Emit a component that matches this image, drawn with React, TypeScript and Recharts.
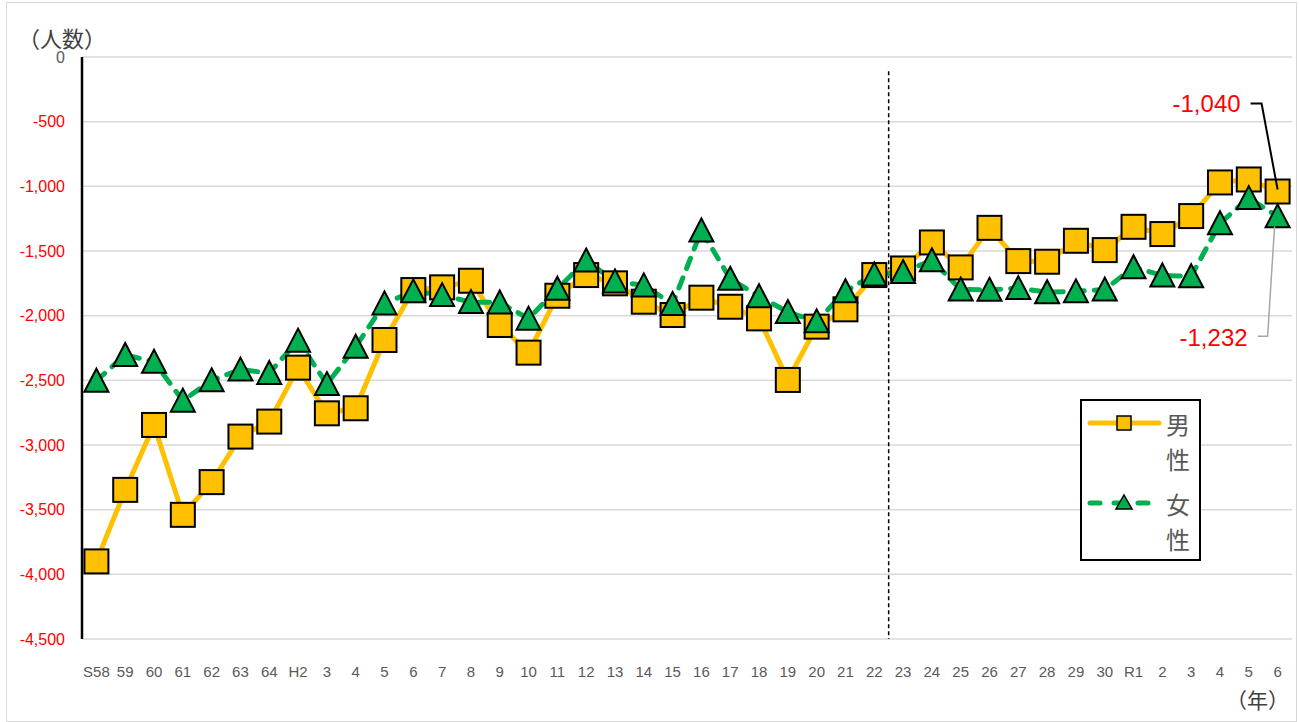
import React from 'react';
import {
    LineChart, Line, XAxis, YAxis, CartesianGrid, ReferenceLine, LabelList
} from 'recharts';

const years = ['S58', '59', '60', '61', '62', '63', '64', 'H2', '3', '4', '5', '6', '7', '8', '9', '10',
    '11', '12', '13', '14', '15', '16', '17', '18', '19', '20', '21', '22', '23', '24', '25', '26', '27',
    '28', '29', '30', 'R1', '2', '3', '4', '5', '6'];

const male = [-3900, -3347, -2845, -3540, -3287, -2935, -2819, -2402, -2755, -2716, -2188, -1802, -1781,
    -1730, -2072, -2286, -1846, -1686, -1750, -1892, -1995, -1861, -1931, -2021, -2497, -2085, -1951,
    -1686, -1635, -1434, -1627, -1321, -1578, -1583, -1421, -1493, -1313, -1369, -1230, -970, -947, -1040];

const female = [-2503, -2304, -2356, -2657, -2500, -2417, -2443, -2193, -2529, -2240, -1905, -1812, -1841,
    -1895, -1898, -2023, -1792, -1574, -1735, -1766, -1910, -1341, -1715, -1850, -1972, -2044, -1811,
    -1681, -1663, -1572, -1798, -1800, -1787, -1819, -1812, -1798, -1625, -1689, -1695, -1285, -1091, -1232];

const yTicks = [0, -500, -1000, -1500, -2000, -2500, -3000, -3500, -4000, -4500];

const data = years.map((name, i) => ({idx: i, name, male: male[i], female: female[i]}));
const xTicks = years.map((_, i) => i);

const ORANGE = '#FFC000';
const GREEN = '#00B050';
const FONT = '"Liberation Sans", Arial, sans-serif';
const JP = '"Noto Sans CJK JP", sans-serif';

const fmt = (v: number) => v.toLocaleString('en-US');

const SquareDot = (props: any) => {
    const {cx, cy} = props;
    if (cx == null || cy == null) return null;
    return <rect x={cx - 12} y={cy - 12} width={24} height={24} fill={ORANGE} stroke="#000" strokeWidth={2}/>;
}

const TriangleDot = (props: any) => {
    const {cx, cy} = props;
    if (cx == null || cy == null) return null;
    return <path d={`M${cx},${cy - 12} L${cx + 12},${cy + 11} L${cx - 12},${cy + 11} Z`} fill={GREEN} stroke="#000" strokeWidth={2}/>;
}

const YTick = (props: any) => {
    const {x, y, payload} = props;
    return <text x={x} y={y} textAnchor="end" dominantBaseline="central" fontSize={16} fontFamily={FONT}
                 fill={payload.value === 0 ? '#595959' : '#FF0000'}>{fmt(payload.value)}</text>
}

const XTick = (props: any) => {
    const {x, y, payload} = props;
    return <text x={x} y={y + 24} textAnchor="middle" dominantBaseline="central" fontSize={15} fontFamily={FONT}
                 fill="#595959">{years[payload.value]}</text>
}

const MaleLabel = (props: any) => {
    const {x, y, value, index} = props;
    if (index !== years.length - 1) return null;
    return <g>
        <polyline points={`${x - 27},${y - 88} ${x - 16},${y - 88} ${x},${y - 2}`} fill="none" stroke="#000" strokeWidth={2}/>
        <text x={x - 37} y={y - 88} textAnchor="end" dominantBaseline="central" fontSize={24} fontFamily={FONT} fill="#FF0000">{fmt(value)}</text>
    </g>
}

const FemaleLabel = (props: any) => {
    const {x, y, value, index} = props;
    if (index !== years.length - 1) return null;
    return <g>
        <polyline points={`${x - 20},${y + 120} ${x - 10},${y + 120} ${x - 3},${y + 10}`} fill="none" stroke="#A6A6A6" strokeWidth={1.5}/>
        <text x={x - 30} y={y + 121} textAnchor="end" dominantBaseline="central" fontSize={24} fontFamily={FONT} fill="#FF0000">{fmt(value)}</text>
    </g>
}

const LegendBox = () => (
    <div style={{position: 'absolute', left: 1080, top: 399, width: 117, height: 158, border: '2px solid #000', background: '#fff'}}>
        <svg width={117} height={158} style={{position: 'absolute', left: 0, top: 0}}>
            <line x1={8} y1={22} x2={77} y2={22} stroke={ORANGE} strokeWidth={5} strokeLinecap="round"/>
            <rect x={35} y={15} width={14} height={14} fill={ORANGE} stroke="#000" strokeWidth={1.5}/>
            <line x1={8} y1={102} x2={74} y2={102} stroke={GREEN} strokeWidth={5} strokeLinecap="round" strokeDasharray="10 14"/>
            <path d="M42,94 L50,108 L34,108 Z" fill={GREEN} stroke="#000" strokeWidth={1.5}/>
            <text x={84} y={22} dominantBaseline="central" fontSize={24} fontFamily={JP} fill="#595959">男</text>
            <text x={84} y={57} dominantBaseline="central" fontSize={24} fontFamily={JP} fill="#595959">性</text>
            <text x={84} y={102} dominantBaseline="central" fontSize={24} fontFamily={JP} fill="#595959">女</text>
            <text x={84} y={137} dominantBaseline="central" fontSize={24} fontFamily={JP} fill="#595959">性</text>
        </svg>
    </div>
);

export default function App() {
    return (
        <div style={{position: 'absolute', left: 0, top: 0, width: 1299, height: 722, background: '#fff'}}>
            <div style={{position: 'absolute', left: 6, top: 2, width: 1289, height: 718, border: '1.5px solid #D9D9D9'}}/>
            <LineChart width={1299} height={722} data={data} margin={{top: 57, right: 7, bottom: 43, left: 12}}>
                <CartesianGrid vertical={false} stroke="#D9D9D9" strokeWidth={1.5}/>
                <XAxis dataKey="idx" type="number" domain={[-0.5, years.length - 0.5]} ticks={xTicks} interval={0}
                       axisLine={false} tickLine={false} height={40} tick={<XTick/>}/>
                <YAxis domain={[-4500, 0]} ticks={yTicks} interval={0} width={70} tickLine={false} tickSize={0}
                       tickMargin={17} axisLine={{stroke: '#000', strokeWidth: 2.5}} tick={<YTick/>}/>
                <ReferenceLine segment={[{x: 27.5, y: -110}, {x: 27.5, y: -4500}]} stroke="#000" strokeWidth={1.5} strokeDasharray="4 3"/>
                <Line dataKey="male" stroke={ORANGE} strokeWidth={5} dot={<SquareDot/>} isAnimationActive={false}>
                    <LabelList dataKey="male" content={<MaleLabel/>}/>
                </Line>
                <Line dataKey="female" stroke={GREEN} strokeWidth={5} strokeDasharray="11 10" strokeLinecap="round"
                      dot={<TriangleDot/>} isAnimationActive={false}>
                    <LabelList dataKey="female" content={<FemaleLabel/>}/>
                </Line>
            </LineChart>
            <div style={{position: 'absolute', left: 18, top: 26, fontSize: 22, fontFamily: JP, color: '#404040', lineHeight: '22px'}}>（人数）</div>
            <div style={{position: 'absolute', left: 1226, top: 685, fontSize: 21, fontFamily: JP, color: '#404040', lineHeight: '28px'}}>（年）</div>
            <LegendBox/>
        </div>
    );
}
